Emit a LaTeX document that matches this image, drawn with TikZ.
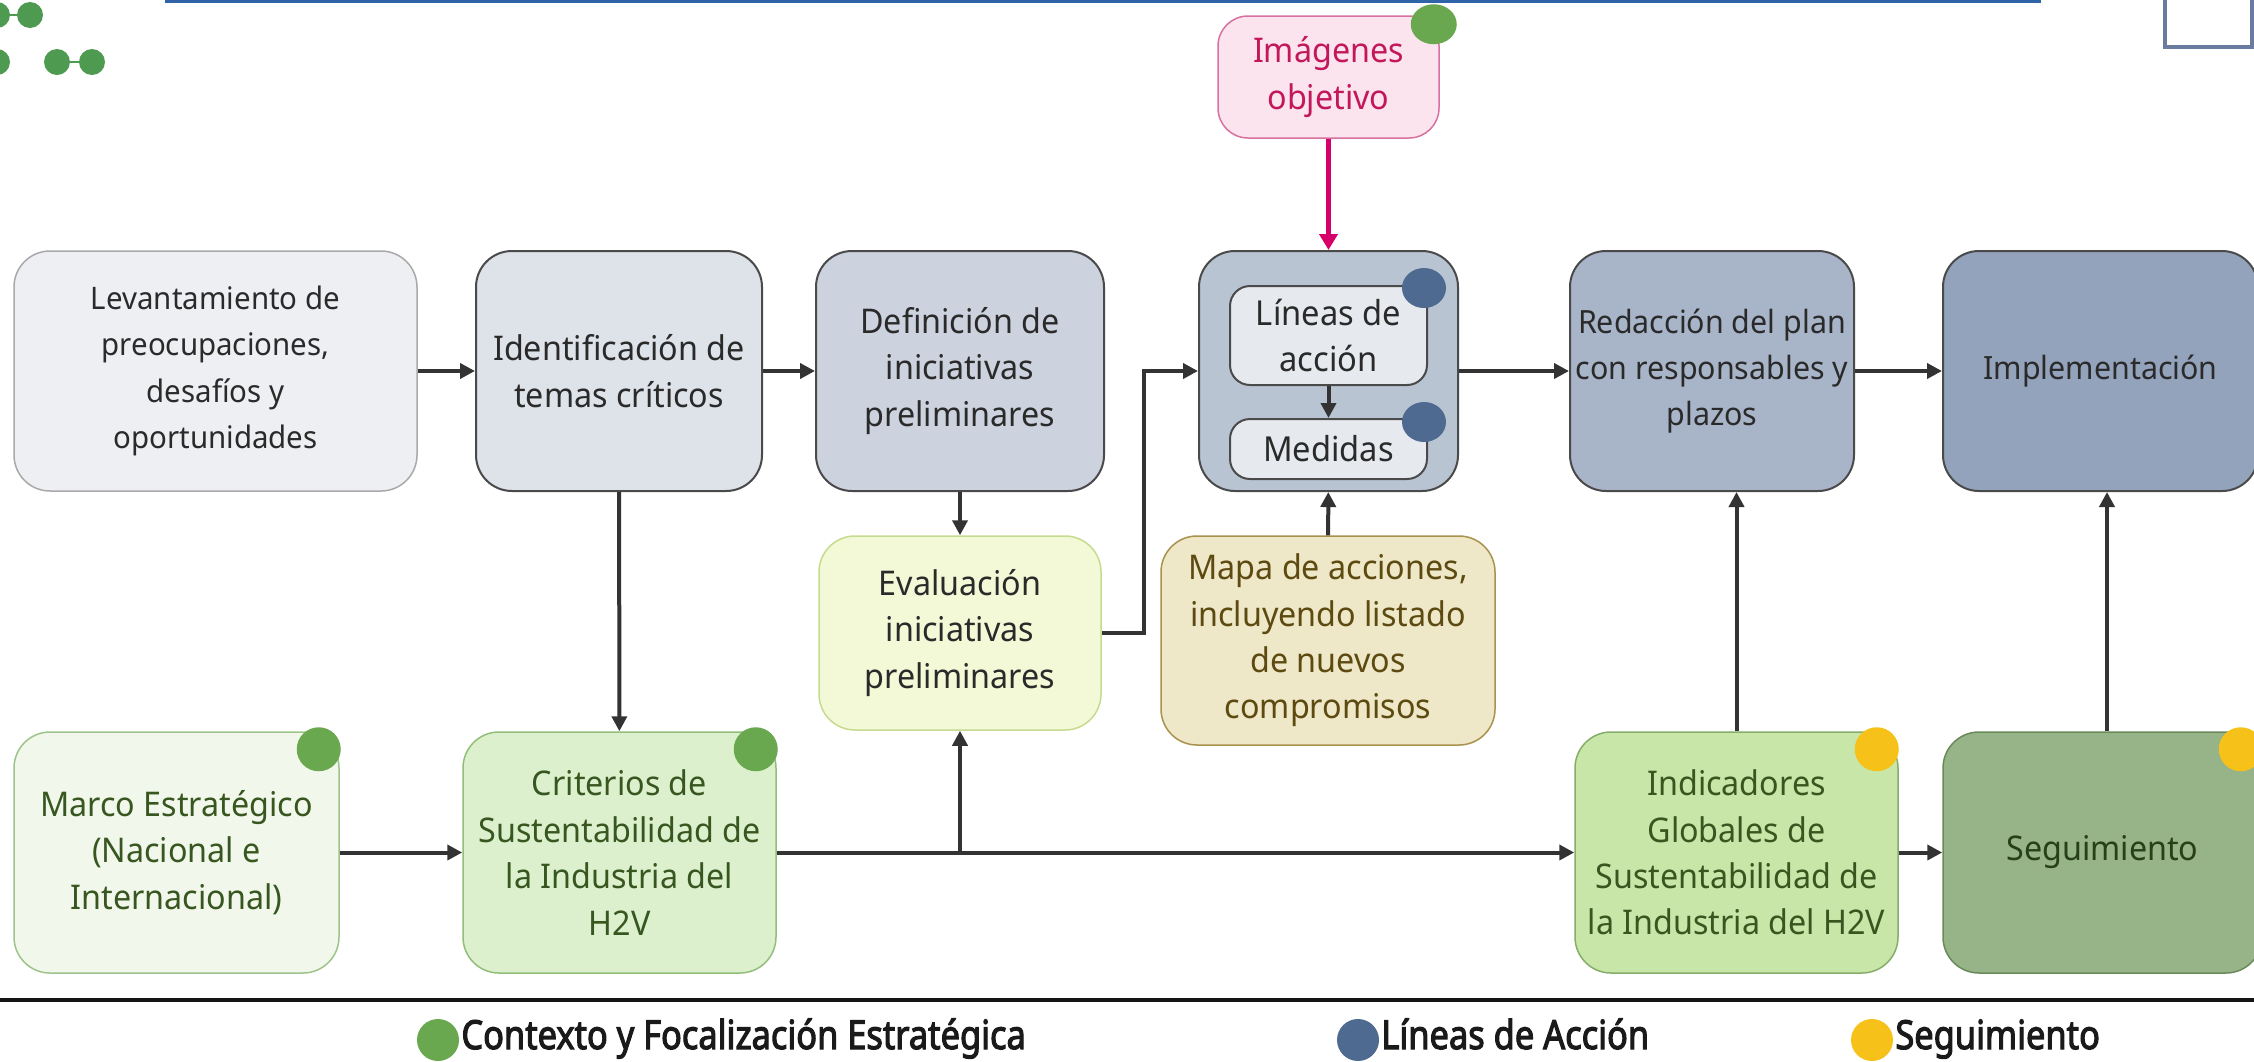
\documentclass[tikz,border=0pt]{standalone}
\usepackage{fontspec}
\setmainfont{Noto Sans}[FakeStretch=0.95]
\newfontfamily\legfont{Noto Sans}[FakeBold=3]
\usetikzlibrary{arrows.meta,calc,shapes.geometric}
\definecolor{txtd}{HTML}{2A2A2A}
\definecolor{bord}{HTML}{4A4A4A}
\definecolor{arrowc}{HTML}{333333}
\definecolor{levf}{HTML}{EEEFF2}
\definecolor{levd}{HTML}{A9A9A9}
\definecolor{idef}{HTML}{DEE2E9}
\definecolor{deff}{HTML}{CDD3DE}
\definecolor{linf}{HTML}{B9C4D2}
\definecolor{innf}{HTML}{E6E9EE}
\definecolor{redf}{HTML}{A8B5C9}
\definecolor{impf}{HTML}{94A3BC}
\definecolor{imaf}{HTML}{FCE4EF}
\definecolor{imad}{HTML}{D8719F}
\definecolor{imat}{HTML}{C2185B}
\definecolor{imaa}{HTML}{D6006B}
\definecolor{evaf}{HTML}{F3F9D6}
\definecolor{evad}{HTML}{C5DB8E}
\definecolor{mapf}{HTML}{EEE7C8}
\definecolor{mapd}{HTML}{A8924E}
\definecolor{mapt}{HTML}{5C4A10}
\definecolor{marf}{HTML}{F1F8EB}
\definecolor{mard}{HTML}{9DC48A}
\definecolor{grt}{HTML}{38561F}
\definecolor{crif}{HTML}{DDF0CE}
\definecolor{crid}{HTML}{93BE79}
\definecolor{indf}{HTML}{C7E6A7}
\definecolor{indd}{HTML}{86AD6A}
\definecolor{segf}{HTML}{97B388}
\definecolor{segd}{HTML}{6B8A5C}
\definecolor{segt}{HTML}{284019}
\definecolor{dotg}{HTML}{6AA84F}
\definecolor{dotb}{HTML}{4E6A91}
\definecolor{doty}{HTML}{F6C21A}
\definecolor{logog}{HTML}{4E9A50}
\definecolor{topblue}{HTML}{2F64A8}
\definecolor{trc}{HTML}{6B7BA0}
\definecolor{legt}{HTML}{1A1A1A}
\newcommand\legtxt[1]{\scalebox{0.86}[1]{\legfont\fontsize{20}{22}\selectfont\color{legt}#1}}
\begin{document}
\begin{tikzpicture}[x=0.5pt,y=-0.5pt,
  box/.style={rounded corners=18pt, minimum height=120pt, align=center, inner sep=0pt,
    font=\fontsize{17}{23.2}\selectfont, line width=1pt, draw=bord, text=txtd},
  innbox/.style={rounded corners=10pt, align=center, inner sep=0pt, minimum width=98.5pt,
    font=\fontsize{17.2}{23.2}\selectfont, line width=1pt, draw=bord, fill=innf, text=txtd},
  arr/.style={line width=2pt, draw=arrowc, -{Triangle[length=7.5pt,width=7.5pt]}},
  plain/.style={line width=2pt, draw=arrowc}
]
\useasboundingbox (0,0) rectangle (2254,1061);

% decorations at top
\draw[topblue, line width=1.5pt] (165,1.5) -- (2041,1.5);
\draw[trc, line width=2pt] (2165,-10) rectangle (2252,47);
\draw[logog, line width=1pt] (-3,15) -- (30,15);
\fill[logog] (-3,15) circle[radius=6.5pt] (30,15) circle[radius=6.5pt];
\fill[logog] (-3,62) circle[radius=6.5pt];
\draw[logog, line width=1pt] (57,62) -- (92,62);
\fill[logog] (57,62) circle[radius=6.5pt] (92,62) circle[radius=6.5pt];

% top row
\node[box, fill=levf, draw=levd, line width=0.75pt, minimum width=201.5pt, font=\fontsize{15.5}{23.2}\selectfont] (lev) at (215.5,371)
  {Levantamiento de\\preocupaciones,\\desafíos y\\oportunidades};
\node[box, fill=idef, minimum width=143pt] (ide) at (619,371) {Identificación de\\temas críticos};
\node[box, fill=deff, minimum width=144pt] (def) at (960,371) {Definición de\\iniciativas\\preliminares};
\node[box, fill=linf, minimum width=129.5pt] (lin) at (1328.5,371) {};
\node[innbox, minimum height=49.5pt] (lda) at (1328.5,335.5) {Líneas de\\acción};
\node[innbox, minimum height=30pt] (med) at (1328.5,449) {Medidas};
\node[box, fill=redf, minimum width=142pt, font=\fontsize{16}{23.2}\selectfont] (red) at (1712,371) {Redacción del plan\\con responsables y\\plazos};
\node[box, fill=impf, minimum width=157.5pt, font=\fontsize{16}{23.2}\selectfont] (imp) at (2100.5,371) {Implementación};

% top
\node[box, rounded corners=15pt, fill=imaf, draw=imad, line width=0.75pt, text=imat,
  minimum width=110.5pt, minimum height=61pt] (ima) at (1328.5,77) {Imágenes\\objetivo};

% middle row
\node[box, fill=evaf, draw=evad, line width=0.75pt, minimum width=141pt, minimum height=97pt] (eva) at (960,633)
  {Evaluación\\iniciativas\\preliminares};
\node[box, fill=mapf, draw=mapd, line width=0.75pt, text=mapt, minimum width=167pt, minimum height=104.5pt] (map) at (1328,640.5)
  {Mapa de acciones,\\incluyendo listado\\de nuevos\\compromisos};

% bottom row
\node[box, fill=marf, draw=mard, line width=0.75pt, text=grt, minimum width=162.5pt, minimum height=120.5pt] (mar) at (176.5,852.5)
  {Marco Estratégico\\(Nacional e\\Internacional)};
\node[box, fill=crif, draw=crid, line width=0.75pt, text=grt, minimum width=156.5pt, minimum height=120.5pt] (cri) at (619.5,852.5)
  {Criterios de\\Sustentabilidad de\\la Industria del\\H2V};
\node[box, fill=indf, draw=indd, line width=0.75pt, text=grt, minimum width=161.5pt, minimum height=120.5pt] (ind) at (1736.5,852.5)
  {Indicadores\\Globales de\\Sustentabilidad de\\la Industria del H2V};
\node[box, fill=segf, draw=segd, line width=0.75pt, text=segt, minimum width=159.5pt, minimum height=120.5pt] (seg) at (2102.5,852.5)
  {Seguimiento};

% dots
\fill[dotg] ($(ima.north east)+(-6,9)$) circle[x radius=11.5pt, y radius=10pt];
\fill[dotb] ($(lda.north east)+(-4,3)$) circle[x radius=11pt, y radius=10pt];
\fill[dotb] ($(med.north east)+(-4,4)$) circle[x radius=11pt, y radius=10pt];
\fill[dotg] ($(mar.north east)+(-21,18)$) circle[radius=11pt];
\fill[dotg] ($(cri.north east)+(-21,18)$) circle[radius=11pt];
\fill[doty] ($(ind.north east)+(-22,18)$) circle[radius=11pt];
\fill[doty] ($(seg.north east)+(-22,18)$) circle[radius=11pt];

% connectors
\draw[arr] (lev) -- (ide);
\draw[arr] (ide) -- (def);
\draw[arr] (lin) -- (red);
\draw[arr] (red) -- (imp);
\draw[arr] (def) -- (eva);
\draw[arr] (eva.east) -- ++(42,0) |- (lin.west);
\draw[arr] (lda) -- (med);
\draw[arr] (map) -- (lin);
\draw[line width=2.5pt, draw=imaa, -{Triangle[length=8pt,width=9pt]}] (ima) -- (lin);
\draw[arr] (ide) -- (cri);
\draw[arr] (mar) -- (cri);
\draw[arr] (cri) -- (ind);
\draw[arr] (cri.east -| eva.south) -- (eva.south);
\draw[arr] (ind.north) -- (ind.north |- red.south);
\draw[arr] (ind) -- (seg);
\draw[arr] (seg.north -| 2107,0) -- (imp.south -| 2107,0);

% bottom rule and legend
\draw[line width=2pt, black!92] (0,1000) -- (2254,1000);
\fill[dotg] (438,1040) circle[radius=10.5pt];
\node[anchor=base west, inner sep=0pt] (lg1) at (461,1049) {\legtxt{Contexto y Focalización Estratégica}};
\fill[dotb] (1358,1040) circle[radius=10.5pt];
\node[anchor=base west, inner sep=0pt] (lg2) at (1381,1049) {\legtxt{Líneas de Acción}};
\fill[doty] (1872,1040) circle[radius=10.5pt];
\node[anchor=base west, inner sep=0pt] (lg3) at (1895,1049) {\legtxt{Seguimiento}};
\end{tikzpicture}
\end{document}
